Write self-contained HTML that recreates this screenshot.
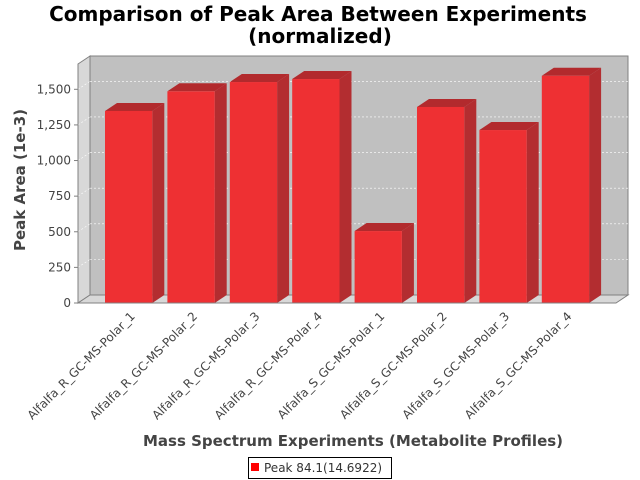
<!DOCTYPE html>
<html><head><meta charset="utf-8"><style>
body{margin:0;background:#fff}
svg{display:block;font-family:"DejaVu Sans","Liberation Sans",sans-serif}
</style></head><body>
<svg id="chart" width="640" height="480" viewBox="0 0 640 480" xmlns="http://www.w3.org/2000/svg">
<rect width="640" height="480" fill="#fff"/>
<text x="318" y="21" text-anchor="middle" font-size="20" font-weight="bold" fill="#000">Comparison of Peak Area Between Experiments</text>
<text x="320" y="43" text-anchor="middle" font-size="20" font-weight="bold" fill="#000">(normalized)</text>
<g id="plot">
<polygon points="90,56 628,56 628,295 90,295" fill="#c0c0c0" stroke="#808080"/>
<polygon points="78,64 90,56 90,295 78,303" fill="#d8d8d8" stroke="#808080"/>
<polygon points="78,303 90,295 628,295 616,303" fill="#d8d8d8" stroke="#808080"/>
<g id="grid"></g><g id="bars"></g><g id="yaxis"></g><g id="xaxis"></g>
</g>
<text transform="translate(25,180) rotate(-90)" text-anchor="middle" font-size="15" font-weight="bold" fill="#444">Peak Area (1e-3)</text>
<text x="353" y="446" text-anchor="middle" font-size="15" font-weight="bold" fill="#444">Mass Spectrum Experiments (Metabolite Profiles)</text>
<g>
<rect x="248.5" y="457.5" width="143" height="21" fill="#fff" stroke="#000"/>
<rect x="251" y="463" width="8" height="8" fill="#ff0000"/>
<text x="264" y="472" font-size="12" fill="#333">Peak 84.1(14.6922)</text>
</g>
</svg>
<script>
const categories = ["Alfalfa_R_GC-MS-Polar_1","Alfalfa_R_GC-MS-Polar_2","Alfalfa_R_GC-MS-Polar_3","Alfalfa_R_GC-MS-Polar_4","Alfalfa_S_GC-MS-Polar_1","Alfalfa_S_GC-MS-Polar_2","Alfalfa_S_GC-MS-Polar_3","Alfalfa_S_GC-MS-Polar_4"];
const values = [1348,1486,1551,1572,505,1376,1214,1595];
const yTicks = [0,250,500,750,1000,1250,1500];
const yTickLabels = ["0","250","500","750","1,000","1,250","1,500"];

const NS="http://www.w3.org/2000/svg";
const y0=303, pxPer=213.7/1500, DX=12, DY=8;
function yScale(v){return y0 - v*pxPer;}
const step=62.4, bw=47.3, x0=105;
function xScale(i){return x0 + i*step;}
function mk(tag,attrs,parent){const e=document.createElementNS(NS,tag);for(const k in attrs)e.setAttribute(k,attrs[k]);parent.appendChild(e);return e;}

const grid=document.getElementById('grid'), yaxis=document.getElementById('yaxis');
yTicks.forEach((t,i)=>{
  const y=yScale(t);
  if(t>0){
    const g=mk('line',{x1:90,x2:628,y1:y-DY,y2:y-DY,stroke:'#fff','stroke-dasharray':'2,2','stroke-width':0.6},grid);
    
    
    const d=mk('line',{x1:78,x2:90,y1:y,y2:y-DY,stroke:'#fff','stroke-dasharray':'2,2','stroke-width':0.6},grid);
    
    
  }
  const tk=mk('line',{x1:74,x2:78,y1:y,y2:y,stroke:'#808080'},yaxis);
  
  
  const tx=mk('text',{x:71,y:y+4,'text-anchor':'end','font-size':12,fill:'#444'},yaxis);
  tx.textContent=yTickLabels[i];
  
  
});
mk('line',{x1:78,x2:78,y1:64,y2:303,stroke:'#808080'},yaxis);

const bars=document.getElementById('bars'), xaxis=document.getElementById('xaxis');
values.forEach((v,i)=>{
  const x=xScale(i), yt=yScale(v);
  const g=mk('g',{},bars);
  
  
  mk('polygon',{points:`${x+bw},${yt} ${x+bw+DX},${yt-DY} ${x+bw+DX},${y0-DY} ${x+bw},${y0}`,fill:'#b32d30'},g);
  mk('polygon',{points:`${x},${yt} ${x+DX},${yt-DY} ${x+bw+DX},${yt-DY} ${x+bw},${yt}`,fill:'#b22a2d'},g);
  mk('rect',{x:x,y:yt,width:bw,height:y0-yt,fill:'#ee3033'},g);
  const cx=x+bw/2+7;
  const t=mk('text',{transform:`translate(${cx},${y0+14}) rotate(-45)`,'text-anchor':'end','font-size':12,fill:'#444'},xaxis);
  t.textContent=categories[i];
  
  
});
mk('line',{x1:78,x2:616,y1:303,y2:303,stroke:'#808080'},xaxis);
</script>
</body></html>
